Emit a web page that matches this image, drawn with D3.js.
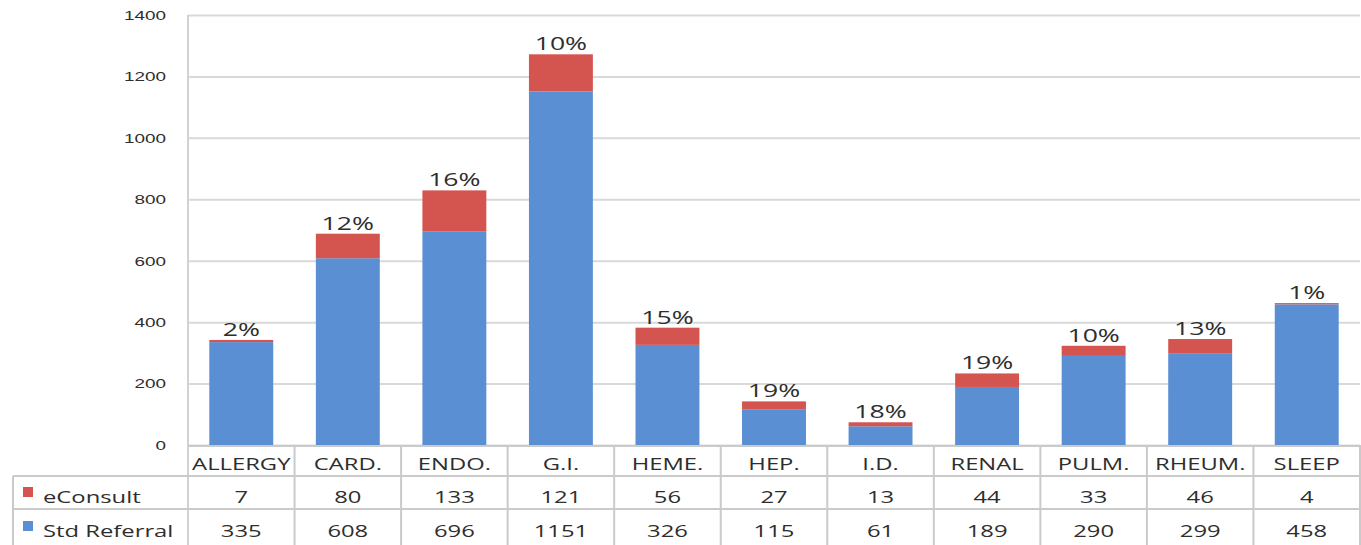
<!DOCTYPE html>
<html>
<head>
<meta charset="utf-8">
<script src="https://cdn.jsdelivr.net/npm/d3@7"></script>
<style>
body{margin:0;background:#fff;}
svg{display:block;font-family:"Open Sans",sans-serif;}
</style>
</head>
<body>
<svg id="chart"></svg>
<script>
// data
let categories = ["ALLERGY","CARD.","ENDO.","G.I.","HEME.","HEP.","I.D.","RENAL","PULM.","RHEUM.","SLEEP"];
let eConsult = [7,80,133,121,56,27,13,44,33,46,4];
let stdReferral = [335,608,696,1151,326,115,61,189,290,299,458];
let yTicks = [0,200,400,600,800,1000,1200,1400];
let seriesNames = ["eConsult","Std Referral"];

const w = 1361;
const h = 545;
const plotL = 188, plotR = 1360, plotT = 15, plotB = 445;
const blue = "#5a8fd3", red = "#d4554f";
const textCol = "#2e2e2e";
const sx = 1.4; // the text in the original looks stretched sideways

let svg = d3.select("#chart").attr("width", w).attr("height", h);

let xScale = d3.scaleBand().domain(categories).range([plotL, plotR]).paddingInner(0.4).paddingOuter(0.2);
let colScale = d3.scaleBand().domain(categories).range([plotL, plotR]);
let yScale = d3.scaleLinear().domain([0, 1400]).range([plotB, plotT]);

// put a text at x,y stretched sideways
let stretch = (sel, x, y) => sel.attr("transform", d => "translate(" + x(d) + "," + y(d) + ") scale(" + sx + ",1)");

// gridlines + y labels
let yAxis = d3.axisLeft(yScale).tickValues(yTicks).tickSize(-(plotR - plotL)).tickFormat(d3.format("d"));
let gy = svg.append("g").attr("transform", "translate(" + plotL + ",0)").call(yAxis);
gy.select(".domain").remove();
gy.selectAll(".tick line").attr("stroke", "#d9d9d9").attr("stroke-width", 2);
gy.selectAll(".tick text").attr("x", 0).attr("fill", textCol).style("font-size", "13.5px")
  .attr("transform", "translate(-22,0) scale(" + sx + ",1)");

// left edge of plot
svg.append("line").attr("x1", plotL).attr("x2", plotL).attr("y1", plotT).attr("y2", h)
  .attr("stroke", "#d2d2d2").attr("stroke-width", 2);

let rows = categories.map((c, i) => ({cat: c, e: eConsult[i], s: stdReferral[i]}));

// stacked bars
svg.selectAll(".std").data(rows).enter().append("rect")
  .attr("fill", blue)
  .attr("x", d => xScale(d.cat)).attr("width", xScale.bandwidth())
  .attr("y", d => yScale(d.s)).attr("height", d => yScale(0) - yScale(d.s));
svg.selectAll(".ec").data(rows).enter().append("rect")
  .attr("fill", red)
  .attr("x", d => xScale(d.cat)).attr("width", xScale.bandwidth())
  .attr("y", d => yScale(d.s + d.e)).attr("height", d => yScale(d.s) - yScale(d.s + d.e));

// percent of eConsult above each bar
svg.selectAll(".pct").data(rows).enter().append("text")
  .attr("text-anchor", "middle").attr("fill", textCol).style("font-size", "19px")
  .text(d => Math.round(100 * d.e / (d.e + d.s)) + "%")
  .call(stretch, d => xScale(d.cat) + xScale.bandwidth() / 2, d => yScale(d.s + d.e) - 4);

// data table under the chart
const rowY = [plotB, 476, 509, 560];
let tbl = svg.append("g");
let lineCol = "#cacaca";
tbl.append("line").attr("x1", plotL).attr("x2", plotR).attr("y1", rowY[0] + 1).attr("y2", rowY[0] + 1).attr("stroke", lineCol).attr("stroke-width", 2);
[1, 2].forEach(r => tbl.append("line").attr("x1", 13).attr("x2", plotR).attr("y1", rowY[r]).attr("y2", rowY[r]).attr("stroke", lineCol).attr("stroke-width", 2));
tbl.append("line").attr("x1", 13).attr("x2", 13).attr("y1", rowY[1]).attr("y2", h).attr("stroke", lineCol).attr("stroke-width", 2);
tbl.selectAll(".vl").data(categories).enter().append("line")
  .attr("x1", d => colScale(d) + colScale.bandwidth()).attr("x2", d => colScale(d) + colScale.bandwidth())
  .attr("y1", rowY[0]).attr("y2", h).attr("stroke", lineCol).attr("stroke-width", 2);

let mid = d => colScale(d) + colScale.bandwidth() / 2;
tbl.selectAll(".cat").data(categories).enter().append("text")
  .attr("text-anchor", "middle").attr("fill", textCol).style("font-size", "17px")
  .text(d => d).call(stretch, mid, () => 470);
tbl.selectAll(".ev").data(rows).enter().append("text")
  .attr("text-anchor", "middle").attr("fill", textCol).style("font-size", "17px")
  .text(d => d.e).call(stretch, d => mid(d.cat), () => 503);
tbl.selectAll(".sv").data(rows).enter().append("text")
  .attr("text-anchor", "middle").attr("fill", textCol).style("font-size", "17px")
  .text(d => d.s).call(stretch, d => mid(d.cat), () => 537);

// row labels with colour keys
let keyCols = [red, blue];
let labelY = [503, 537];
seriesNames.forEach((name, i) => {
  tbl.append("rect").attr("x", 23).attr("y", labelY[i] - 16).attr("width", 10).attr("height", 10).attr("fill", keyCols[i]);
  tbl.append("text").attr("fill", textCol).style("font-size", "17px").text(name)
    .attr("transform", "translate(43," + labelY[i] + ") scale(" + sx + ",1)");
});
</script>
</body>
</html>
